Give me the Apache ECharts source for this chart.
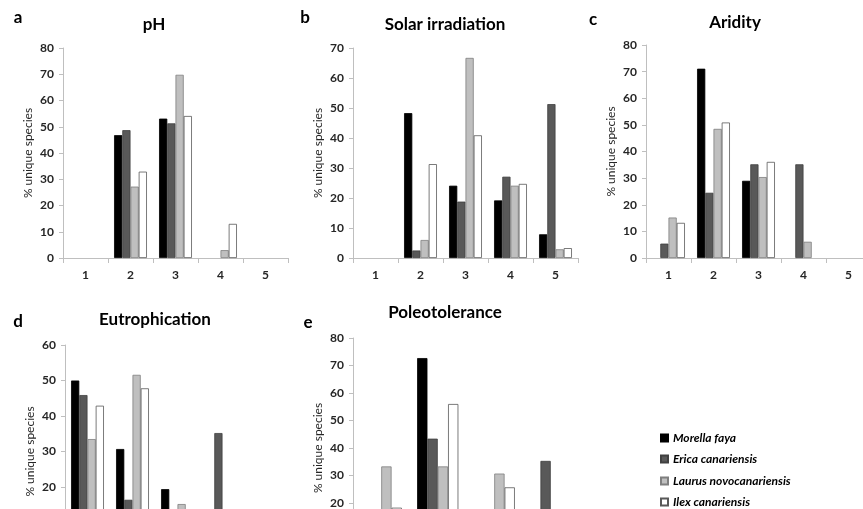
<!DOCTYPE html>
<html>
<head>
<meta charset="utf-8">
<script src="https://cdn.jsdelivr.net/npm/echarts@6/dist/echarts.min.js"></script>
<style>html,body{margin:0;padding:0;background:#fff;}#c{width:863px;height:509px;}</style>
</head>
<body>
<div id="c"></div>
<script>
const species = ['Morella faya', 'Erica canariensis', 'Laurus novocanariensis', 'Ilex canariensis'];
const categories5 = ['1', '2', '3', '4', '5'];
const categories4 = ['1', '2', '3', '4'];
const panelTitles = ['pH', 'Solar irradiation', 'Aridity', 'Eutrophication', 'Poleotolerance'];
const panelLetters = ['a', 'b', 'c', 'd', 'e'];
const yMax = [80, 70, 80, 60, 80];

// pH
const phMorella = [0, 46.8, 53.1, 0, 0];
const phErica   = [0, 48.7, 51.3, 0, 0];
const phLaurus  = [0, 27.2, 69.8, 3.0, 0];
const phIlex    = [0, 32.9, 54.1, 13.0, 0];
// Solar irradiation
const solMorella = [0, 48.3, 24.1, 19.2, 7.9];
const solErica   = [0, 2.5, 18.8, 27.1, 51.3];
const solLaurus  = [0, 6.0, 66.7, 24.1, 2.9];
const solIlex    = [0, 31.3, 40.9, 24.7, 3.3];
// Aridity
const ariMorella = [0, 71.1, 29.0, 0, 0];
const ariErica   = [5.4, 24.5, 35.2, 35.2, 0];
const ariLaurus  = [15.2, 48.5, 30.4, 6.1, 0];
const ariIlex    = [13.2, 50.9, 36.1, 0, 0];
// Eutrophication
const eutMorella = [50.0, 30.7, 19.4, 0, 0];
const eutErica   = [45.9, 16.4, 2.5, 35.2, 0];
const eutLaurus  = [33.5, 51.6, 15.2, 0, 0];
const eutIlex    = [42.9, 47.8, 9.3, 0, 0];
// Poleotolerance
const polMorella = [13.6, 72.7, 13.7, 0];
const polErica   = [10.7, 43.4, 10.6, 35.3];
const polLaurus  = [33.3, 33.3, 30.7, 2.7];
const polIlex    = [18.3, 56.0, 25.7, 0];

const panelData = [
  [phMorella, phErica, phLaurus, phIlex],
  [solMorella, solErica, solLaurus, solIlex],
  [ariMorella, ariErica, ariLaurus, ariIlex],
  [eutMorella, eutErica, eutLaurus, eutIlex],
  [polMorella, polErica, polLaurus, polIlex]
];
const panelCats = [categories5, categories5, categories5, categories5, categories4];

const FONT = 'Lato';
const fills = ['#000000', '#595959', '#bfbfbf', '#ffffff'];
const borders = ['#000000', '#404040', '#7f7f7f', '#595959'];

const grids = [
  {left: 63, top: 48, width: 225, height: 210},
  {left: 353, top: 48, width: 225, height: 210},
  {left: 646, top: 45, width: 225, height: 213},
  {left: 65, top: 345, width: 225, height: 213},
  {left: 353, top: 338, width: 226, height: 220}
].map(g => Object.assign({outerBoundsMode: 'none', containLabel: false}, g));
const titlePos = [[154, 25], [445, 25], [735, 23], [155, 320], [445, 313]];
const letterPos = [[18, 18], [305, 18], [593, 20], [18, 322], [308, 323]];
const legendCenters = [438, 459, 481, 502];

const xAxes = [], yAxes = [], series = [], graphics = [];
for (let p = 0; p < 5; p++) {
  xAxes.push({
    type: 'category', gridIndex: p, data: panelCats[p],
    axisLine: {lineStyle: {color: '#bfbfbf', width: 1}},
    axisTick: {show: true, length: 5, lineStyle: {color: '#bfbfbf'}},
    axisLabel: {color: '#262626', fontFamily: FONT, fontWeight: 'bold', fontSize: 12, margin: 11}
  });
  yAxes.push({
    type: 'value', gridIndex: p, min: 0, max: yMax[p], interval: 10,
    name: '% unique species', nameLocation: 'middle', nameRotate: 90, nameGap: 29,
    nameTextStyle: {color: '#262626', fontFamily: FONT, fontSize: 12},
    axisLine: {show: true, lineStyle: {color: '#bfbfbf', width: 1}},
    axisTick: {show: true, length: 4, lineStyle: {color: '#bfbfbf'}},
    splitLine: {show: false},
    axisLabel: {color: '#262626', fontFamily: FONT, fontWeight: 'bold', fontSize: 12, margin: 9}
  });
  for (let s = 0; s < 4; s++) {
    series.push({
      type: 'bar', name: species[s], xAxisIndex: p, yAxisIndex: p,
      data: panelData[p][s].map(v => v === 0 ? '-' : v),
      barGap: '0%', barCategoryGap: '27%',
      itemStyle: {color: fills[s], borderColor: borders[s], borderWidth: 0.8},
      emphasis: {disabled: true}, animation: false
    });
  }
  graphics.push({
    type: 'text', x: titlePos[p][0], y: titlePos[p][1],
    style: {text: panelTitles[p], align: 'center', verticalAlign: 'middle',
      font: 'bold 17px Lato', fill: '#000'}
  });
  graphics.push({
    type: 'text', x: letterPos[p][0], y: letterPos[p][1],
    style: {text: panelLetters[p], align: 'center', verticalAlign: 'middle',
      font: 'bold 17px Lato', fill: '#000'}
  });
}

const legends = species.map((name, i) => ({
  data: [name], orient: 'vertical', left: 660, top: legendCenters[i] - 7, padding: 0,
  itemWidth: 7, itemHeight: 7, itemGap: 0, icon: 'rect',
  textStyle: {fontFamily: FONT, fontStyle: 'italic', fontWeight: 'bold', fontSize: 12, color: '#000', lineHeight: 14},
  selectedMode: false
}));

const chart = echarts.init(document.getElementById('c'), null, {renderer: 'canvas'});
chart.setOption({
  backgroundColor: '#ffffff',
  animation: false,
  grid: grids,
  xAxis: xAxes,
  yAxis: yAxes,
  series: series,
  legend: legends,
  graphic: graphics
});
</script>
</body>
</html>
